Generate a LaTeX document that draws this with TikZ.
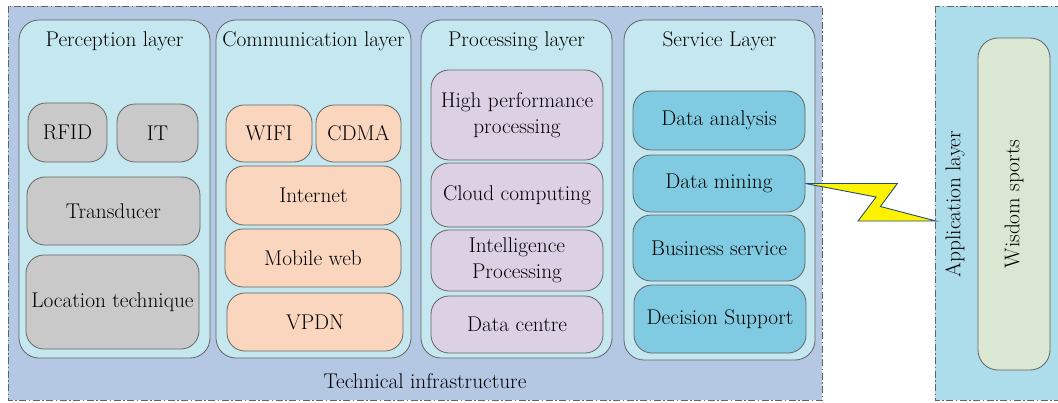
\documentclass[tikz,border=0pt]{standalone}
\usetikzlibrary{calc}
\definecolor{infra}{RGB}{180,199,227}
\definecolor{colfill}{RGB}{197,232,240}
\definecolor{grayb}{RGB}{201,201,201}
\definecolor{peach}{RGB}{250,214,190}
\definecolor{lav}{RGB}{220,208,228}
\definecolor{blueb}{RGB}{128,203,225}
\definecolor{appfill}{RGB}{173,221,234}
\definecolor{wisd}{RGB}{217,231,211}
\definecolor{edge}{RGB}{100,100,100}
\definecolor{boltb}{RGB}{31,78,121}
\definecolor{bolty}{RGB}{255,242,0}
\tikzset{
  dashbox/.style={draw=edge, line width=0.9pt, dash pattern=on 7pt off 2.5pt on 1.5pt off 2.5pt},
  colbox/.style={draw=edge, line width=0.8pt, fill=colfill, rounded corners=20pt},
  inbox/.style={draw=edge, line width=0.8pt, rounded corners=18pt, inner sep=0pt, align=center, font=\fs, text=black},
  gb/.style={inbox, fill=grayb},
  pb/.style={inbox, fill=peach},
  lb/.style={inbox, fill=lav},
  bb/.style={inbox, fill=blueb},
  ttl/.style={font=\fs, inner sep=0pt, text=black}
}
\newcommand{\fs}{\fontsize{21.3}{26}\selectfont}
\begin{document}
\begin{tikzpicture}[x=1pt,y=-1pt]
\useasboundingbox (0,0) rectangle (1058,402);
% technical infrastructure
\draw[dashbox, fill=infra] (8,6) rectangle (822,400);
\node[ttl] (tech) at (425,381) {Technical infrastructure};
% application layer
\draw[dashbox, fill=appfill] (935,6) rectangle (1070,400);
\coordinate (appw) at (936,221);
\node[ttl, rotate=90] (applab) at (955,204) {Application layer};
\draw[draw=edge, line width=0.8pt, fill=wisd, rounded corners=20pt] (978,38) rectangle (1050,370);
\node[ttl, rotate=90] (wis) at (1014,204) {Wisdom sports};
% columns
\draw[colbox] (19,20) rectangle (210,358);
\draw[colbox] (216,20) rectangle (411,358);
\draw[colbox] (421,20) rectangle (612,358);
\draw[colbox] (624,20) rectangle (815,360);
\node[ttl] (t1) at (114.5,41) {Perception layer};
\node[ttl] (t2) at (313.5,41) {Communication layer};
\node[ttl] (t3) at (516.5,41) {Processing layer};
\node[ttl] (t4) at (719.5,41) {Service Layer};
% perception
\node[gb, minimum width=79, minimum height=59] (rfid) at (67.5,132.5) {RFID};
\node[gb, minimum width=81, minimum height=58] (it) at (157.5,133) {IT};
\node[gb, minimum width=173, minimum height=68] (trans) at (113.5,211) {Transducer};
\node[gb, minimum width=173, minimum height=94] (loc) at (112.5,302) {Location technique};
% communication
\node[pb, minimum width=86, minimum height=57] (wifi) at (269,133.5) {WIFI};
\node[pb, minimum width=85, minimum height=57] (cdma) at (358.5,133.5) {CDMA};
\node[pb, minimum width=175, minimum height=59] (inet) at (313.5,195.5) {Internet};
\node[pb, minimum width=176, minimum height=58] (mob) at (313,258) {Mobile web};
\node[pb, minimum width=176, minimum height=58] (vpdn) at (315,322) {VPDN};
% processing
\node[lb, minimum width=172, minimum height=90] (hpp) at (517,115) {High performance\\processing};
\node[lb, minimum width=172, minimum height=64] (cc) at (517,195) {Cloud computing};
\node[lb, minimum width=172, minimum height=61] (ip) at (517,260.5) {Intelligence\\Processing};
\node[lb, minimum width=172, minimum height=57] (dc) at (517,324.5) {Data centre};
% service
\node[bb, minimum width=172, minimum height=59] (da) at (719,120.5) {Data analysis};
\node[bb, minimum width=172, minimum height=57] (dm) at (719,183.5) {Data mining};
\node[bb, minimum width=172, minimum height=66] (bs) at (719,248) {Business service};
\node[bb, minimum width=172, minimum height=68] (ds) at (720,319) {Decision Support};
% lightning link
\draw[boltb, line width=0.9pt, fill=bolty, line join=miter]
  (dm.east) -- ++(92,0) -- ++(-17,23) -- (appw) -- ++(-78,0) -- ++(18,-24) -- cycle;
\end{tikzpicture}
\end{document}
